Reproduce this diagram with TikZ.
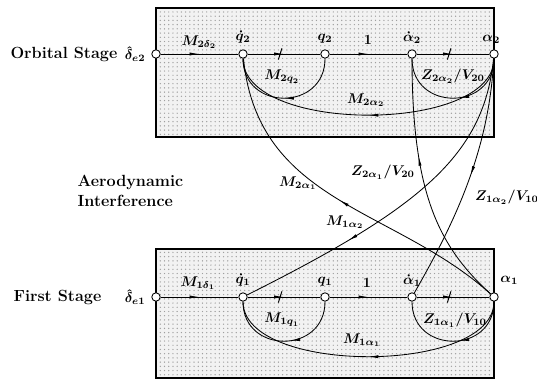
\documentclass[tikz,border=0pt]{standalone}
\usepackage{amsmath, amssymb}
\usepackage{tikz}
\usetikzlibrary{calc, positioning, decorations.markings, patterns, arrows.meta}

\begin{document}
\begin{tikzpicture}[>=stealth, x=0.025cm, y=0.025cm,
    every node/.style={font=\bfseries\boldmath, inner sep=1pt},
    sig/.style={circle, draw, fill=white, inner sep=0pt, minimum size=6pt, line width=0.6pt},
    stagetext/.style={font=\bfseries\fontsize{11.5pt}{14pt}\selectfont},
    stagebox/.style={draw, line width=0.8pt, pattern=dots, pattern color=gray!75, preaction={fill=gray!10}},
    flow/.style={line width=0.6pt, postaction={decorate},
        decoration={markings, mark=at position #1 with {\arrow{Latex[length=7pt,width=2.2pt]}}}},
    flow/.default=0.5,
    integ/.style={line width=0.6pt, postaction={decorate},
        decoration={markings, mark=at position 0.5 with {\arrow{Latex[length=7pt,width=2.2pt]}
            \draw[line width=0.7pt] (-4pt,-4pt) -- (-1.5pt,4pt);}}},
]
    \useasboundingbox (0,0) rectangle (537,379);

    % =================================================================
    % CAC KHOI (ORBITAL STAGE / FIRST STAGE)
    % =================================================================
    \draw[stagebox] (156,242) rectangle (494,371);
    \draw[stagebox] (156,1) rectangle (494,130);

    % =================================================================
    % CAC NUT TIN HIEU
    % =================================================================
    % Orbital stage
    \node[sig] (de2) at (156,325) {};
    \node[sig] (qd2) at (243,325) {};
    \node[sig] (q2)  at (325,325) {};
    \node[sig] (ad2) at (412,325) {};
    \node[sig] (a2)  at (494,325) {};

    % First stage
    \node[sig] (de1) at (156,82) {};
    \node[sig] (qd1) at (243,82) {};
    \node[sig] (q1)  at (325,82) {};
    \node[sig] (ad1) at (412,82) {};
    \node[sig] (a1)  at (494,82) {};

    % =================================================================
    % NHAN CUA CAC NUT
    % =================================================================
    \node[stagetext, anchor=east] (orbital) at (119,325) {Orbital Stage};
    \node[left=3pt of de2] (lde2) {$\hat{\delta}_{e2}$};
    \node[above=3pt of qd2] (lqd2) {$\dot{q}_2$};
    \node[above=3pt of q2] (lq2) {$q_2$};
    \node[above=3pt of ad2] (lad2) {$\dot{\alpha}_2$};
    \node[above=3pt of a2, xshift=-2pt] (la2) {$\alpha_2$};

    \node[stagetext, anchor=east] (first) at (103,82) {First Stage};
    \node[left=3pt of de1] (lde1) {$\hat{\delta}_{e1}$};
    \node[above=3pt of qd1] (lqd1) {$\dot{q}_1$};
    \node[above=3pt of q1] (lq1) {$q_1$};
    \node[above=3pt of ad1] (lad1) {$\dot{\alpha}_1$};
    \node[above right=5pt and 1pt of a1] (la1) {$\alpha_1$};

    \node[stagetext, anchor=west, align=left] (aero) at (76,188) {Aerodynamic\\Interference};

    % =================================================================
    % CAC NHANH TRONG TUNG TANG
    % =================================================================
    % Orbital stage
    \draw[flow] (de2) -- (qd2);
    \draw[integ] (qd2) -- (q2);
    \draw[flow] (q2) -- (ad2);
    \draw[integ] (ad2) -- (a2);
    \draw[flow] (q2) to[out=-90, in=-90, looseness=1.65] (qd2);
    \draw[flow=0.45] (a2) to[out=-90, in=-90, looseness=1.65] (ad2);
    \draw[flow] (a2) to[out=-90, in=-90, looseness=0.77] (qd2);

    % First stage
    \draw[flow] (de1) -- (qd1);
    \draw[integ] (qd1) -- (q1);
    \draw[flow] (q1) -- (ad1);
    \draw[integ] (ad1) -- (a1);
    \draw[flow=0.45] (q1) to[out=-90, in=-90, looseness=1.65] (qd1);
    \draw[flow=0.45] (a1) to[out=-90, in=-90, looseness=1.65] (ad1);
    \draw[flow] (a1) to[out=-90, in=-90, looseness=0.75] (qd1);

    % =================================================================
    % CAC NHANH GIAO THOA KHI DONG
    % =================================================================
    \draw[flow=0.5] (a1) .. controls +(-100,90) and +(15,-150) .. (qd2);
    \draw[flow=0.62] (a1) .. controls +(-55,50) and +(0,-140) .. (ad2);
    \draw[flow=0.48] (a2) .. controls +(-5,-100) and +(40,70) .. (ad1);
    \draw[flow=0.68] (a2) .. controls +(-10,-100) and +(180,90) .. (qd1);

    % =================================================================
    % NHAN CUA CAC NHANH
    % =================================================================
    \node (lMd2)  at (199,337) {$M_{2\delta_2}$};
    \node (lone2) at (368,339) {1};
    \node (lMq2)  at (282,302) {$M_{2q_2}$};
    \node (lZa22) at (453,303) {$Z_{2\alpha_2}/V_{20}$};
    \node (lMa22) at (366,279) {$M_{2\alpha_2}$};

    \node (lMa21) at (298,196) {$M_{2\alpha_1}$};
    \node (lZa21) at (383,207) {$Z_{2\alpha_1}/V_{20}$};
    \node (lZa12) at (507,182) {$Z_{1\alpha_2}/V_{10}$};
    \node (lMa12) at (345,157) {$M_{1\alpha_2}$};

    \node (lMd1)  at (198,96) {$M_{1\delta_1}$};
    \node (lone1) at (367,96) {1};
    \node (lMq1)  at (282,59) {$M_{1q_1}$};
    \node (lZa11) at (455,59) {$Z_{1\alpha_1}/V_{10}$};
    \node (lMa11) at (362,39) {$M_{1\alpha_1}$};

\end{tikzpicture}
\end{document}
